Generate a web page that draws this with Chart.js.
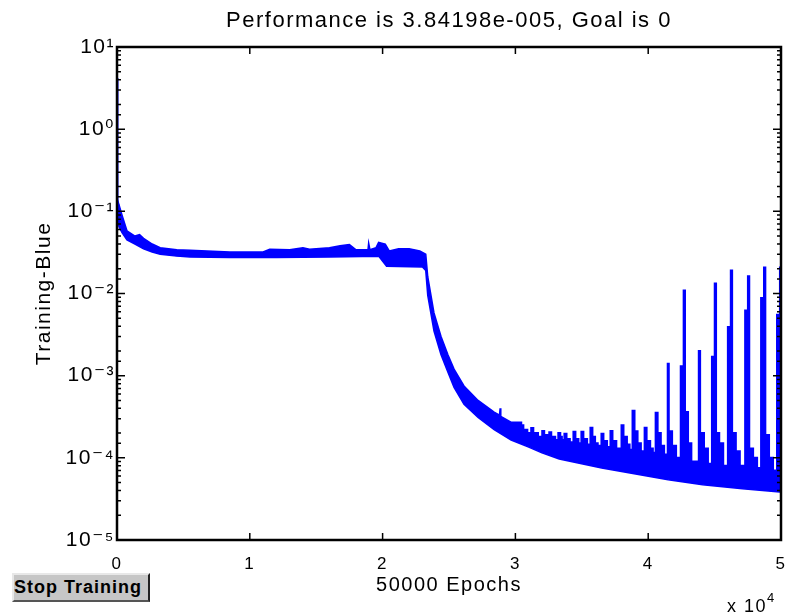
<!DOCTYPE html>
<html>
<head>
<meta charset="utf-8">
<script src="https://cdn.jsdelivr.net/npm/chart.js@4.4.0/dist/chart.umd.min.js"></script>
<style>
  html, body { margin: 0; padding: 0; background: #fff; }
  #wrap { position: relative; width: 786px; height: 614px; }
  #stopBtn {
    position: absolute; left: 12px; top: 573px; width: 134px; height: 25px;
    background: #c6c6c6; border-top: 2px solid #e8e8e8; border-left: 2px solid #e8e8e8;
    border-right: 2px solid #222; border-bottom: 2px solid #555;
    font: bold 18px "Liberation Sans", Arial, sans-serif; letter-spacing: 1px;
    color: #000; line-height: 25px; padding-left: 0px; white-space: nowrap; overflow: hidden;
  }
</style>
</head>
<body>
<div id="wrap">
  <canvas id="perfChart" width="786" height="614"></canvas>
  <div id="stopBtn">Stop Training</div>
</div>
<script>
// lower edge of the training band
const lowerEpochs = [0, 40, 150, 380, 750, 1350, 2000, 2650, 3250, 4500, 5500, 8500, 12000, 16000, 19700, 20300, 23000,
  23250, 23400, 23870, 24400, 24920, 25380, 26130, 27190, 28400, 29680, 31000, 32000, 33300, 36500, 41500, 44100, 47100, 49900, 50000];
const lowerPerf = [4.2, 0.08, 0.065, 0.055, 0.045, 0.04, 0.035, 0.032, 0.03, 0.0285, 0.0278, 0.0275, 0.0275, 0.0278, 0.0285, 0.0215, 0.021,
  0.019, 0.0095, 0.0035, 0.0018, 0.0011, 0.00072, 0.00045, 0.00031, 0.00022, 0.000165, 0.000135, 0.000115, 0.000097, 0.000075, 0.000054, 0.000047, 0.000042, 0.0000384, 0.0000384];

// upper edge up to ~3e4 epochs
const upperEpochs = [0, 40, 150, 380, 750, 1350, 1700, 2000, 2650, 3250, 4500, 5500, 8500, 11000, 11500, 13000, 14000, 14500,
  16000, 16800, 17500, 18000, 18900, 18950, 19050, 19500, 19700, 20200, 20500, 21200, 22000, 22800, 23250, 23400, 23870,
  24400, 24920, 25380, 26130, 27190, 28400, 28800, 28850, 28900, 29700, 30440];
const upperPerf = [4.2, 0.14, 0.12, 0.09, 0.058, 0.05, 0.052, 0.047, 0.04, 0.036, 0.034, 0.0335, 0.032, 0.032, 0.0345, 0.034, 0.036, 0.0345,
  0.036, 0.038, 0.0395, 0.034, 0.034, 0.041, 0.034, 0.036, 0.042, 0.04, 0.033, 0.035, 0.035, 0.033, 0.03, 0.016, 0.0058,
  0.003, 0.0018, 0.0012, 0.00075, 0.0005, 0.00036, 0.00033, 0.0004, 0.00032, 0.00027, 0.00025];

// spiky part after ~3e4 epochs
const toothEpochs = [29700, 30440, 30600, 30900, 31190, 31350, 31700, 32020, 32170, 32400, 32550, 32700, 33000, 33230, 33380, 33500,
  33690, 33850, 34100, 34370, 34520, 34750, 34970, 35120, 35400, 35650, 35800, 36000, 36200, 36480, 36630, 36900, 37160, 37310, 37600,
  37990, 38140, 38400, 38600, 38820, 38970, 39200, 39450, 39730, 39880, 40150, 40350, 40560, 40710, 40950, 41200, 41470, 41550, 41800,
  42100, 42450, 42670, 42770, 43000, 43250, 43810, 43910, 44200, 44500, 44800, 45010, 45110, 45350, 45650, 46000, 46220, 46320, 46600,
  46900, 47300, 47510, 47610, 47900, 48200, 48500, 48720, 48820, 49100, 49400, 49700, 49920, 50000];
const toothPerf = [0.00027, 0.00025, 0.00022, 0.0002, 0.00023, 0.0002, 0.00018, 0.000212, 0.00019, 0.000175, 0.000205, 0.00018, 0.000165, 0.0002, 0.00018, 0.000165,
  0.000196, 0.00017, 0.000155, 0.000207, 0.00017, 0.00015, 0.000207, 0.00017, 0.000145, 0.000232, 0.00018, 0.00015, 0.00014, 0.000196, 0.00016, 0.000135, 0.000212, 0.00016, 0.00013,
  0.00025, 0.00018, 0.000145, 0.000125, 0.000374, 0.00021, 0.00015, 0.00012, 0.000232, 0.00016, 0.00013, 0.000115, 0.000354, 0.0002, 0.00014, 0.00011, 0.0014, 0.00021, 0.00014,
  0.0001, 0.0013, 0.0109, 0.00036, 0.00015, 0.00009, 0.002, 0.0002, 0.00013, 0.000085, 0.0017, 0.0132, 0.0002, 0.00015, 0.00008, 0.0039, 0.019, 0.0002, 0.00012,
  0.00008, 0.0062, 0.0162, 0.00013, 0.0001, 0.000075, 0.0088, 0.0207, 0.00019, 0.0001, 0.00007, 0.0055, 0.0207, 0.0207];

const xTickLabels = ['0', '1', '2', '3', '4', '5'];
const supDigits = {'0': '⁰', '1': '¹', '2': '²', '3': '³', '4': '⁴', '5': '⁵', '-': '⁻'};

const pts = (xs, ys) => xs.map((x, i) => ({x: x, y: ys[i]}));
const blue = '#0000ff';

const frameTicks = {
  id: 'frameTicks',
  beforeLayout(chart) { chart.ctx.letterSpacing = '1.5px'; },
  beforeDraw(chart) { chart.ctx.letterSpacing = '1.5px'; },
  afterDatasetsDraw(chart) {
    const {ctx, chartArea: a, scales: {x, y}} = chart;
    ctx.save();
    ctx.strokeStyle = '#000';
    ctx.lineWidth = 1.5;
    ctx.beginPath();
    x.ticks.forEach(t => {
      const px = x.getPixelForValue(t.value);
      ctx.moveTo(px, a.bottom); ctx.lineTo(px, a.bottom - 7);
      ctx.moveTo(px, a.top); ctx.lineTo(px, a.top + 7);
    });
    y.ticks.forEach(t => {
      const py = y.getPixelForValue(t.value);
      const e = Math.log10(t.value);
      const len = Math.abs(e - Math.round(e)) < 1e-6 ? 8 : 4;
      ctx.moveTo(a.left, py); ctx.lineTo(a.left + len, py);
      ctx.moveTo(a.right, py); ctx.lineTo(a.right - len, py);
    });
    ctx.stroke();
    ctx.lineWidth = 2.5;
    ctx.strokeRect(a.left, a.top, a.right - a.left, a.bottom - a.top);
    // axis multiplier
    ctx.fillStyle = '#000';
    ctx.textBaseline = 'alphabetic';
    ctx.font = '18px "Liberation Sans"';
    ctx.fillText('x 10', 727, 612);
    ctx.font = '13px "Liberation Sans"';
    ctx.fillText('4', 767, 602);
    ctx.restore();
  }
};

new Chart(document.getElementById('perfChart'), {
  type: 'line',
  data: {
    datasets: [{
      label: 'lower',
      data: pts(lowerEpochs, lowerPerf),
      borderColor: blue,
      borderWidth: 1.5,
      pointRadius: 0,
      fill: false
    }, {
      label: 'upper',
      data: pts(upperEpochs, upperPerf),
      borderColor: blue,
      backgroundColor: blue,
      borderWidth: 1.5,
      pointRadius: 0,
      fill: '-1'
    }, {
      label: 'spikes',
      data: pts(toothEpochs, toothPerf),
      borderColor: blue,
      backgroundColor: blue,
      borderWidth: 2,
      pointRadius: 0,
      stepped: true,
      fill: '-2'
    }]
  },
  options: {
    responsive: false,
    animation: false,
    devicePixelRatio: 1,
    layout: { padding: { left: 0, right: 5, top: 0, bottom: 0 } },
    plugins: {
      legend: { display: false },
      tooltip: { enabled: false },
      title: {
        display: true,
        fullSize: false,
        text: 'Performance is 3.84198e-005, Goal is 0',
        color: '#000',
        font: { family: '"Liberation Sans"', size: 22, weight: 'normal' },
        padding: { top: 7.3, bottom: 13.3 }
      }
    },
    scales: {
      x: {
        type: 'linear',
        min: 0,
        max: 50000,
        grid: { display: false, drawTicks: false },
        border: { display: false },
        ticks: {
          stepSize: 10000,
          padding: 14,
          color: '#000',
          font: { family: '"Liberation Sans"', size: 17 },
          callback: v => xTickLabels[Math.round(v / 10000)]
        },
        title: {
          display: true,
          text: '50000 Epochs',
          color: '#000',
          font: { family: '"Liberation Sans"', size: 20 },
          padding: { top: 0, bottom: 17 }
        },
        afterFit(scale) { scale.height = 74; scale.paddingLeft = 0; scale.paddingRight = 0; }
      },
      y: {
        type: 'logarithmic',
        min: 1e-5,
        max: 10,
        grid: { display: false, drawTicks: false },
        border: { display: false },
        ticks: {
          autoSkip: false,
          padding: 2,
          color: '#000',
          font: { family: '"Liberation Sans", "DejaVu Sans"', size: 21 },
          callback: v => {
            const e = Math.log10(v);
            if (Math.abs(e - Math.round(e)) > 1e-6) return '';
            return '10' + String(Math.round(e)).split('').map(c => supDigits[c]).join('');
          }
        },
        title: {
          display: true,
          text: 'Training-Blue',
          color: '#000',
          font: { family: '"Liberation Sans"', size: 21 },
          padding: { top: 32, bottom: 0 }
        },
        afterFit(scale) { scale.width = 117; }
      }
    }
  },
  plugins: [frameTicks]
});
</script>
</body>
</html>
